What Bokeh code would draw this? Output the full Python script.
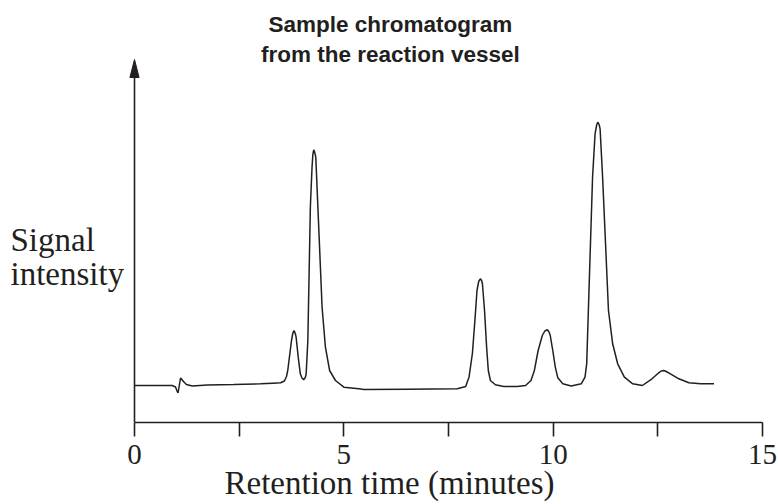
from bokeh.plotting import figure
from bokeh.models import Range1d, FixedTicker, Label, ColumnDataSource
from bokeh.embed import file_html
from bokeh.resources import INLINE

# ---- data (time in minutes, signal in arbitrary units) ----
time_min = [0.00, 0.50, 0.90, 0.98, 1.02, 1.04, 1.07, 1.10, 1.13, 1.17, 1.24, 1.38,
            1.74, 2.37, 3.01, 3.30, 3.49, 3.58, 3.63, 3.66, 3.71, 3.75, 3.78, 3.81,
            3.84, 3.86, 3.91, 3.96, 4.00, 4.04, 4.08, 4.10, 4.14, 4.17, 4.20, 4.24,
            4.26, 4.28, 4.30, 4.33, 4.38, 4.43, 4.48, 4.56, 4.66, 4.80, 5.00, 5.36,
            5.48, 6.50, 7.71, 7.91, 7.96, 7.99, 8.07, 8.13, 8.18, 8.22, 8.26, 8.29,
            8.31, 8.36, 8.41, 8.45, 8.50, 8.62, 8.82, 9.14, 9.34, 9.47, 9.55, 9.64,
            9.74, 9.80, 9.86, 9.90, 9.93, 9.99, 10.05, 10.11, 10.23, 10.43, 10.67,
            10.76, 10.80, 10.84, 10.89, 10.94, 11.00, 11.04, 11.07, 11.10, 11.12,
            11.18, 11.25, 11.32, 11.42, 11.54, 11.70, 11.90, 12.13, 12.36, 12.52,
            12.58, 12.64, 12.70, 12.80, 13.00, 13.24, 13.52, 13.84]
signal = [37.0, 37.0, 37.0, 35.5, 31.0, 29.5, 37.0, 44.5, 43.0, 41.0, 38.0, 36.5,
          37.5, 38.0, 38.7, 39.3, 39.7, 41.5, 46.0, 52.0, 68.7, 82.0, 89.0, 92.0,
          89.0, 85.3, 65.3, 48.7, 44.5, 42.7, 45.0, 48.7, 82.0, 148.7, 215.3, 255.3,
          268.0, 272.7, 271.0, 265.3, 215.3, 165.3, 115.3, 75.3, 52.0, 42.0, 35.3, 33.7,
          33.0, 33.3, 33.7, 36.0, 42.0, 45.3, 69.0, 102.0, 132.0, 141.0, 143.7, 142.0,
          138.7, 112.0, 75.3, 52.0, 42.0, 37.7, 36.0, 36.0, 37.0, 42.0, 52.0, 72.0,
          87.0, 91.5, 92.7, 90.5, 87.0, 72.0, 55.3, 44.7, 38.7, 36.5, 38.7,
          45.3, 58.7, 112.0, 178.7, 245.3, 288.7, 298.0, 300.3, 297.5, 293.7,
          245.3, 178.7, 112.0, 78.7, 58.7, 45.3, 38.7, 37.0, 43.7, 49.7,
          51.5, 52.0, 51.0, 48.7, 43.7, 39.7, 38.7, 38.7]

major_ticks = [0, 5, 10, 15]
minor_ticks = [2.5, 7.5, 12.5]
title_lines = ["Sample chromatogram", "from the reaction vessel"]
y_label_lines = ["Signal", "intensity"]
x_label = "Retention time (minutes)"

# ---- layout constants ----
INK = "#231f20"
W, H = 778, 504
PX = 41.87            # pixels per minute
X0 = 134              # figure pixel of t = 0
FRAME_H = 422         # frame height in px (axis line at bottom)
x_start = -X0 / PX
x_end = (W - X0) / PX
ARROW_TOP = 363       # y of arrow tip (data units = px above the axis)
HEAD_LEN = 18
HEAD_HALF = 4.6 / PX

p = figure(width=W, height=H, title=None,
           x_range=Range1d(x_start, x_end), y_range=Range1d(0, FRAME_H),
           output_backend="svg", toolbar_location=None, y_axis_location=None,
           min_border_left=0, min_border_right=0, min_border_top=0,
           min_border_bottom=H - FRAME_H)
p.outline_line_color = None
p.xgrid.visible = False
p.ygrid.visible = False
p.background_fill_color = "white"
p.border_fill_color = "white"

ax = p.xaxis[0]
ax.ticker = FixedTicker(ticks=major_ticks, minor_ticks=minor_ticks)
ax.bounds = (major_ticks[0], major_ticks[-1])
ax.axis_line_color = INK
ax.axis_line_width = 1.6
ax.major_tick_in = 0
ax.major_tick_out = 14
ax.minor_tick_in = 0
ax.minor_tick_out = 14
ax.major_tick_line_color = INK
ax.minor_tick_line_color = INK
ax.major_tick_line_width = 1.6
ax.minor_tick_line_width = 1.6
ax.major_label_text_font = "Liberation Serif"
ax.major_label_text_font_size = "29px"
ax.major_label_text_color = INK
ax.major_label_standoff = 8
ax.axis_label = x_label
ax.axis_label_text_font = "Liberation Serif"
ax.axis_label_text_font_size = "33px"
ax.axis_label_text_font_style = "normal"
ax.axis_label_text_color = INK
ax.axis_label_standoff = -2

# chromatogram trace
src = ColumnDataSource(dict(t=time_min, s=signal))
p.line("t", "s", source=src, line_color=INK, line_width=1.5)

# y axis with arrow head
p.line([0, 0], [0, ARROW_TOP - HEAD_LEN + 2], line_color=INK, line_width=1.6)
p.patch([-HEAD_HALF, 0, HEAD_HALF], [ARROW_TOP - HEAD_LEN, ARROW_TOP, ARROW_TOP - HEAD_LEN],
        fill_color=INK, line_color=INK, line_width=1)

# title
for txt, yy in zip(title_lines, [398, 368]):
    p.add_layout(Label(x=6.11, y=yy, text=txt, text_align="center",
                       text_baseline="alphabetic", text_font="Liberation Sans",
                       text_font_style="bold", text_font_size="22.5px", text_color=INK))

# y label
for txt, yy in zip(y_label_lines, [183, 149]):
    p.add_layout(Label(x=(10 - X0) / PX, y=yy, text=txt, text_align="left",
                       text_baseline="alphabetic", text_font="Liberation Serif",
                       text_font_size="33px", text_color=INK))

open("out.html", "w").write(file_html(p, INLINE))
